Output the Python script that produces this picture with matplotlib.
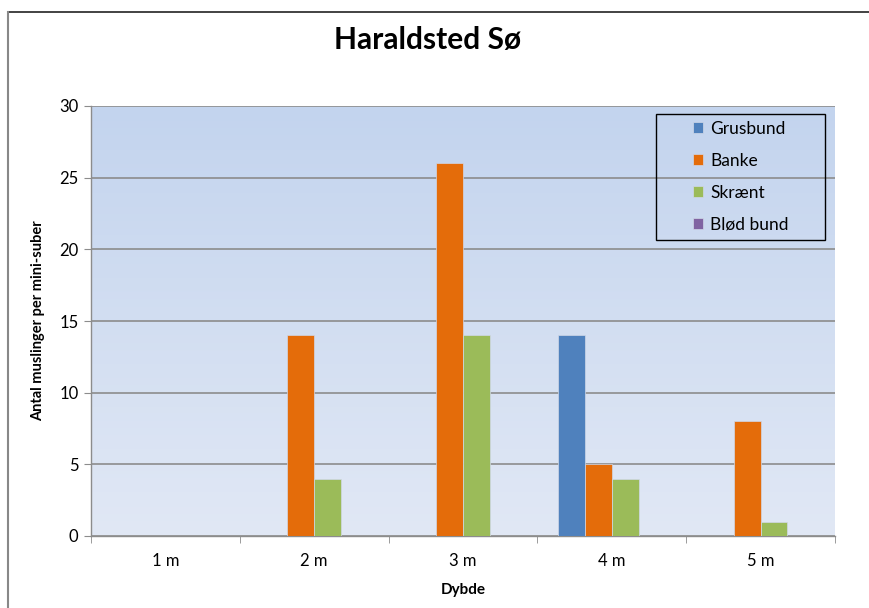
import numpy as np
import matplotlib
matplotlib.use("Agg")
from matplotlib import pyplot as plt
from matplotlib.lines import Line2D
from matplotlib.patches import Rectangle

plt.rcParams['font.family'] = ['Lato', 'DejaVu Sans']

depths = ["1 m", "2 m", "3 m", "4 m", "5 m"]
grusbund = [0, 0, 0, 14, 0]
banke = [0, 14, 26, 5, 8]
skraent = [0, 4, 14, 4, 1]
blod_bund = [0, 0, 0, 0, 0]

series = [
    ("Grusbund", grusbund, "#4f81bd"),
    ("Banke", banke, "#e46c0a"),
    ("Skrænt", skraent, "#9bbb59"),
    ("Blød bund", blod_bund, "#8064a2"),
]

W, H = 870, 608
fig = plt.figure(figsize=(W / 100, H / 100), dpi=100)
ax = fig.add_axes([91 / W, 1 - 536 / H, (835 - 91) / W, (536 - 106) / H])

# gradient background of the plot area
top = np.array([0xc3, 0xd4, 0xee]) / 255
bot = np.array([0xe1, 0xe8, 0xf5]) / 255
t = np.linspace(0, 1, 256)[:, None]
grad = (top * (1 - t) + bot * t)[:, None, :]
ax.imshow(grad, extent=[0, 1, 0, 1], transform=ax.transAxes, aspect='auto', zorder=0)

x = np.arange(len(depths))
bw = 0.18
for i, (name, vals, col) in enumerate(series):
    ax.bar(x + (i - 1.5) * bw, vals, bw, color=col, label=name, zorder=3,
           edgecolor='#d0d8e8', linewidth=0.5)

ax.set_xlim(-0.5, len(depths) - 0.5)
ax.set_ylim(0, 30)
ax.set_yticks(range(0, 31, 5))
ax.yaxis.grid(True, color='#8c8c8c', linewidth=1.2, zorder=1)
ax.set_axisbelow(True)
ax.set_xticks(x)
ax.set_xticklabels(depths, fontsize=12)
ax.set_xticks(np.arange(-0.5, len(depths), 1), minor=True)
ax.tick_params(axis='x', which='major', length=0, pad=12)
ax.tick_params(axis='x', which='minor', length=5, color='#8c8c8c')
ax.tick_params(axis='y', length=5, color='#8c8c8c', labelsize=12, pad=4)

for s in ['top', 'right']:
    ax.spines[s].set_visible(False)
for s in ['left', 'bottom']:
    ax.spines[s].set_color('#8c8c8c')
    ax.spines[s].set_linewidth(1.0)

ax.set_xlabel("Dybde", fontsize=11, fontweight='bold', labelpad=10)
ax.set_ylabel("Antal muslinger per mini-suber", fontsize=10.5, fontweight='bold', labelpad=10)
fig.text(428 / W, 1 - 40 / H, "Haraldsted Sø", fontsize=21.5, fontweight='bold',
         ha='center', va='center')

# legend box drawn separately, entries centred inside it
lx0, lx1, ly0, ly1 = 656, 825, 114, 240
ax.add_patch(Rectangle(((lx0 - 91) / 744, (536 - ly1) / 430), (lx1 - lx0) / 744, (ly1 - ly0) / 430,
                       transform=ax.transAxes, fill=False, edgecolor='black',
                       linewidth=1.0, zorder=5, clip_on=False))
leg = ax.legend(loc='center', bbox_to_anchor=((lx0 + lx1) / 2 / 744 - 91 / 744,
                                              (536 - (ly0 + ly1) / 2) / 430),
                fontsize=12.5, frameon=False, labelspacing=0.92,
                handlelength=0.6, handleheight=0.6, handletextpad=0.4,
                borderpad=0, borderaxespad=0)
leg.set_zorder(5)

# outer chart frame
fig.add_artist(Line2D([8.5 / W, 1], [1 - 12 / H, 1 - 12 / H], color='#222222', linewidth=1.2))
fig.add_artist(Line2D([8.5 / W, 8.5 / W], [0, 1 - 12 / H], color='#888888', linewidth=1.5))

fig.savefig("out.png", dpi=100)
